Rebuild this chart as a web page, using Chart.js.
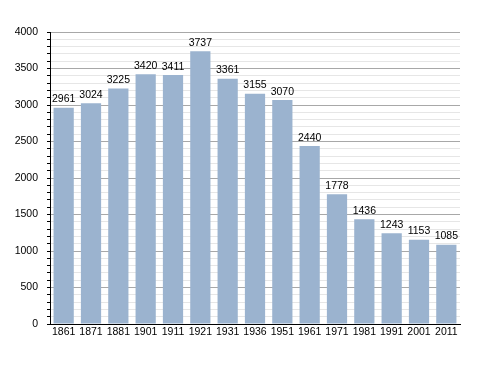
<!DOCTYPE html>
<html>
<head>
<meta charset="utf-8">
<script src="https://cdn.jsdelivr.net/npm/chart.js@4/dist/chart.umd.min.js"></script>
<style>
    html, body { margin: 0; padding: 0; background: #fff; }
    #wrap { width: 488px; height: 373px; position: relative; }
</style>
</head>
<body>
<div id="wrap"><canvas id="population-chart"></canvas></div>
<script>
const years = ['1861', '1871', '1881', '1901', '1911', '1921', '1931', '1936', '1951', '1961', '1971', '1981', '1991', '2001', '2011'];
const population = [2961, 3024, 3225, 3420, 3411, 3737, 3361, 3155, 3070, 2440, 1778, 1436, 1243, 1153, 1085];
const yTicks = [0, 500, 1000, 1500, 2000, 2500, 3000, 3500, 4000];

const FONT = 'Liberation Sans, Arial, sans-serif';

// numbers above each bar
const valueLabels = {
    id: 'value_labels',
    afterDatasetsDraw: chart => {
        const ctx = chart.ctx;
        const meta = chart.getDatasetMeta(0);
        ctx.save();
        ctx.font = '10.5px ' + FONT;
        ctx.fillStyle = '#000';
        ctx.textAlign = 'center';
        ctx.textBaseline = 'bottom';
        meta.data.forEach((bar, i) => {
            ctx.fillText(String(population[i]), bar.x, bar.y - 3);
        });
        ctx.restore();
    },
};

const config = {
    type: 'bar',
    data: {
        labels: years,
        datasets: [{
            data: population,
            backgroundColor: 'rgb(155, 179, 207)',
            barPercentage: 0.74,
            categoryPercentage: 1,
        }],
    },
    options: {
        responsive: true,
        maintainAspectRatio: false,
        animation: false,
        layout: { padding: { top: 32, right: 28, left: 0, bottom: 0 } },
        plugins: {
            legend: { display: false },
            tooltip: { enabled: false },
        },
        scales: {
            x: {
                grid: { display: false, drawTicks: false },
                border: { display: true, color: '#000', width: 1 },
                ticks: {
                    color: '#000',
                    font: { family: FONT, size: 10.5 },
                    padding: 2,
                    maxRotation: 0,
                    autoSkip: false,
                },
                afterFit: scale => { scale.height = 49; },
            },
            y: {
                min: 0,
                max: 4000,
                border: { display: true, color: '#000', width: 1 },
                grid: {
                    color: c => (yTicks.includes(c.tick.value) ? '#a8a8a8' : '#e6e6e6'),
                    tickColor: '#000',
                    tickLength: 3,
                },
                ticks: {
                    stepSize: 100,
                    maxTicksLimit: 60,
                    autoSkip: false,
                    color: '#000',
                    padding: 9,
                    font: { family: FONT, size: 10.5 },
                    callback: v => (yTicks.includes(v) ? String(v) : ''),
                },
                afterFit: scale => { scale.width = 50; },
            },
        },
    },
    plugins: [valueLabels],
};

new Chart(document.getElementById('population-chart'), config);
</script>
</body>
</html>
